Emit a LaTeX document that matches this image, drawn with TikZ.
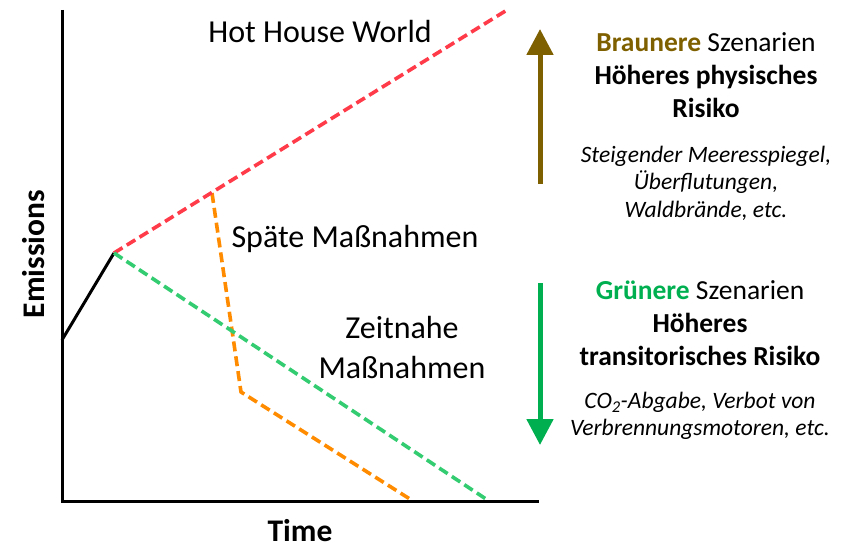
\documentclass[tikz,border=0pt]{standalone}
\usepackage{fontspec}
\setmainfont{Carlito}
\usetikzlibrary{arrows.meta}
\definecolor{hotred}{HTML}{FF3B4A}
\definecolor{latorange}{HTML}{FF8C00}
\definecolor{earlygreen}{HTML}{33CC70}
\definecolor{brownarrow}{HTML}{7F6000}
\definecolor{greenarrow}{HTML}{00B050}
\tikzset{
  axis/.style={line width=3pt},
  pathdash/.style={line width=3.6pt, dash pattern=on 10pt off 5pt},
  bigtext/.style={font=\fontsize{32}{38}\selectfont, inner sep=0pt},
  axislabel/.style={font=\fontsize{31.5}{36}\selectfont\bfseries, inner sep=0pt},
  headtext/.style={align=center, inner sep=0pt, font=\fontsize{27.5}{33}\selectfont},
  detailtext/.style={align=center, inner sep=0pt, font=\fontsize{23.5}{27.5}\selectfont\itshape},
  bigarrow/.style={line width=5pt, -{Triangle[width=26pt,length=26pt]}},
}
\begin{document}
\begin{tikzpicture}[x=1pt,y=-1pt]
\useasboundingbox (0,0) rectangle (851,548);
% axes
\coordinate (top) at (62,10);
\coordinate (origin) at (62,501);
\coordinate (right) at (539,501);
\draw[axis] (top) -- (origin) -- (right);
% paths
\coordinate (start) at (62,340);
\coordinate (peak) at (114,253);
\coordinate (hotend) at (507,10);
\coordinate (late) at (212,193);
\coordinate (latebend) at (241,392);
\coordinate (lateend) at (413,501);
\coordinate (earlyend) at (489,501);
\draw[line width=3pt, line join=round] (start) -- (peak);
\draw[pathdash, latorange] (late) -- (latebend) -- (lateend);
\draw[pathdash, hotred] (peak) -- (hotend);
\draw[pathdash, earlygreen] (peak) -- (earlyend);
% labels
\node[bigtext] (hhw) at (320,32) {Hot House World};
\node[bigtext] (spaete) at (355,239) {Späte Maßnahmen};
\node[bigtext, align=center, font=\fontsize{32}{40}\selectfont] (zeitnahe) at (402,348) {Zeitnahe\\Maßnahmen};
\node[axislabel, rotate=90] (emis) at (34,254) {Emissions};
\node[axislabel, anchor=base] (time) at (300,541) {Time};
% arrows
\coordinate (bstart) at (540,184);
\coordinate (bend) at (540,29);
\draw[bigarrow, brownarrow] (bstart) -- (bend);
\coordinate (gstart) at (540,283);
\coordinate (gend) at (540,445);
\draw[bigarrow, greenarrow] (gstart) -- (gend);
% right texts
\node[headtext] (brown) at (706,75) {\textcolor{brownarrow}{\bfseries Braunere} Szenarien\\\bfseries Höheres physisches\\\bfseries Risiko};
\node[detailtext] (brownd) at (706,183) {Steigender Meeresspiegel,\\Überflutungen,\\Waldbrände, etc.};
\node[headtext] (green) at (700,323) {\textcolor{greenarrow}{\bfseries Grünere} Szenarien\\\bfseries Höheres\\\bfseries transitorisches Risiko};
\node[detailtext] (greend) at (700,416) {CO\textsubscript{2}-Abgabe, Verbot von\\Verbrennungsmotoren, etc.};
\end{tikzpicture}
\end{document}
